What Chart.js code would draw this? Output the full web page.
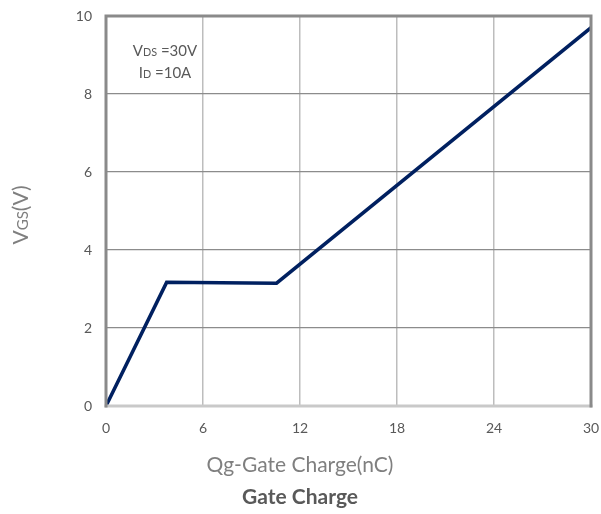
<!DOCTYPE html>
<html>
<head>
<meta charset="utf-8">
<script src="https://cdn.jsdelivr.net/npm/chart.js@4/dist/chart.umd.min.js"></script>
<style>
  html, body { margin: 0; padding: 0; background: #fff; }
  #wrap { width: 601px; height: 514px; }
</style>
</head>
<body>
<div id="wrap"><canvas id="grafico"></canvas></div>
<script>
// dados
const qg = [0, 3.75, 10.55, 30]
const vgs = [0, 3.17, 3.15, 9.7]
const xTicks = [0, 6, 12, 18, 24, 30]
const yTicks = [0, 2, 4, 6, 8, 10]

const fonte = 'Lato, "Open Sans", sans-serif'

// texto com subscrito: partes [texto, pequeno?]
function textoMisto(ctx, partes, x, y, tam, alinhar) {
  const medidas = partes.map(p => {
    ctx.font = (p[1] ? tam * 0.72 : tam) + 'px ' + fonte
    return ctx.measureText(p[0]).width
  })
  const total = medidas.reduce((a, b) => a + b, 0)
  let cx = alinhar === 'center' ? x - total / 2 : x
  ctx.textAlign = 'left'
  ctx.textBaseline = 'alphabetic'
  partes.forEach((p, i) => {
    ctx.font = (p[1] ? tam * 0.72 : tam) + 'px ' + fonte
    ctx.fillText(p[0], cx, y)
    cx += medidas[i]
  })
}

const extras = {
  id: 'extras',
  afterDraw(chart) {
    const { ctx, chartArea: a } = chart
    ctx.save()
    // moldura
    ctx.lineCap = 'square'
    ctx.strokeStyle = '#c9c9c9'
    ctx.lineWidth = 3
    ctx.beginPath(); ctx.moveTo(a.left, a.bottom); ctx.lineTo(a.right, a.bottom); ctx.stroke()
    ctx.strokeStyle = '#8a8a8a'
    ctx.beginPath()
    ctx.moveTo(a.left, a.bottom); ctx.lineTo(a.left, a.top)
    ctx.lineTo(a.right, a.top); ctx.lineTo(a.right, a.bottom)
    ctx.stroke()

    // anotação
    ctx.fillStyle = '#595959'
    textoMisto(ctx, [['V', false], ['DS', true], [' =30V', false]], 165, 56, 15, 'center')
    textoMisto(ctx, [['I', false], ['D', true], [' =10A', false]], 165, 78, 15, 'center')

    // títulos dos eixos
    ctx.fillStyle = '#7f7f7f'
    ctx.font = '21px ' + fonte
    ctx.textAlign = 'center'
    ctx.textBaseline = 'middle'
    ctx.fillText('Qg-Gate Charge(nC)', 300, 465)
    ctx.fillStyle = '#595959'
    ctx.font = 'bold 21px ' + fonte
    ctx.fillText('Gate Charge', 300, 497)

    ctx.translate(20, 215)
    ctx.rotate(-Math.PI / 2)
    ctx.fillStyle = '#7f7f7f'
    textoMisto(ctx, [['V', false], ['GS', true], ['(V)', false]], 0, 8, 21, 'center')
    ctx.restore()
  }
}

const data = {
  datasets: [{
    data: qg.map((x, i) => ({ x, y: vgs[i] })),
    borderColor: '#002060',
    borderWidth: 3.5,
    pointRadius: 0,
    fill: false,
    tension: 0
  }]
}

const config = {
  type: 'line',
  data,
  options: {
    responsive: false,
    animation: false,
    layout: { padding: { top: 16, right: 10, left: 0, bottom: 0 } },
    plugins: { legend: { display: false }, tooltip: { enabled: false } },
    scales: {
      x: {
        type: 'linear',
        min: 0, max: 30,
        afterBuildTicks: s => { s.ticks = xTicks.map(v => ({ value: v })) },
        afterFit: s => { s.height = 108; s.paddingLeft = 0; s.paddingRight = 0 },
        grid: { color: '#bdbdbd', lineWidth: 1.5, drawTicks: false },
        border: { display: false },
        ticks: { color: '#595959', font: { size: 14, family: fonte }, padding: 14 }
      },
      y: {
        min: 0, max: 10,
        afterBuildTicks: s => { s.ticks = yTicks.map(v => ({ value: v })) },
        afterFit: s => { s.width = 106; s.paddingTop = 0; s.paddingBottom = 0 },
        grid: { color: '#8c8c8c', lineWidth: 1.2, drawTicks: false },
        border: { display: false },
        ticks: { color: '#595959', font: { size: 14, family: fonte }, padding: 14 }
      }
    }
  },
  plugins: [extras]
}

const canvas = document.getElementById('grafico')
canvas.width = 601
canvas.height = 514
const graph = new Chart(canvas, config)
</script>
</body>
</html>
